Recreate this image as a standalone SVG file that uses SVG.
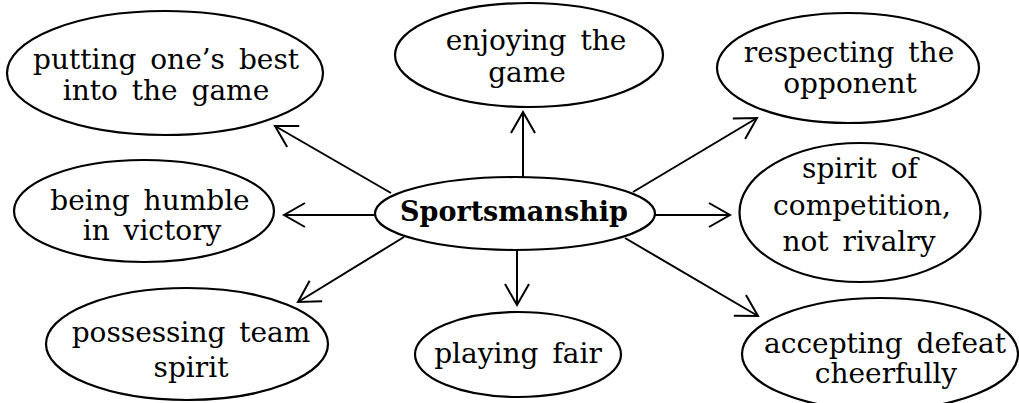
<svg xmlns="http://www.w3.org/2000/svg" width="1019" height="403" viewBox="0 0 1019 403">
<style>
.n ellipse{fill:#fff;stroke:#000;stroke-width:2.2}
.n text{font-family:"DejaVu Serif","Liberation Serif",serif;font-size:28px;word-spacing:5px;fill:#000;text-anchor:middle}
.n text.b{font-weight:bold;font-size:27px;word-spacing:0}
.c line{stroke:#000;stroke-width:2;marker-end:url(#ah)}
</style>
<defs>
<marker id="ah" markerUnits="userSpaceOnUse" viewBox="0 0 26 28" refX="24" refY="14" markerWidth="26" markerHeight="28" orient="auto" overflow="visible">
<path d="M3,2 L24,14 L3,26" fill="none" stroke="#000" stroke-width="2"/>
</marker>
</defs>
<rect width="1019" height="403" fill="#fff"/>
<g class="c">
<line x1="391" y1="193" x2="275" y2="126"/>
<line x1="523" y1="178" x2="523" y2="112"/>
<line x1="633" y1="192" x2="757" y2="118"/>
<line x1="655" y1="215" x2="730" y2="215"/>
<line x1="625" y1="238" x2="758" y2="316"/>
<line x1="517" y1="250" x2="517" y2="305"/>
<line x1="404" y1="237" x2="298" y2="302"/>
<line x1="375" y1="215" x2="284" y2="215"/>
</g>
<g id="sportsmanship" class="n">
<ellipse cx="515" cy="213.5" rx="140" ry="36.5"/>
<text class="b" x="514" y="221">Sportsmanship</text>
</g>
<g id="putting" class="n">
<ellipse cx="165" cy="73" rx="158" ry="62"/>
<text x="166" y="69">putting one’s best</text>
<text x="166" y="100">into the game</text>
</g>
<g id="enjoying" class="n">
<ellipse cx="529" cy="55" rx="134" ry="52"/>
<text x="536" y="50">enjoying the</text>
<text x="527" y="82">game</text>
</g>
<g id="respecting" class="n">
<ellipse cx="848" cy="68" rx="131" ry="55"/>
<text x="849" y="62">respecting the</text>
<text x="850" y="93">opponent</text>
</g>
<g id="spirit" class="n">
<ellipse cx="860" cy="212.5" rx="120.5" ry="69.5"/>
<text x="860" y="178">spirit of</text>
<text x="862" y="215">competition,</text>
<text x="859" y="251">not rivalry</text>
</g>
<g id="humble" class="n">
<ellipse cx="144" cy="211" rx="130" ry="51"/>
<text x="150" y="210">being humble</text>
<text x="152" y="240">in victory</text>
</g>
<g id="possessing" class="n">
<ellipse cx="187" cy="344" rx="141" ry="56"/>
<text x="191" y="342">possessing team</text>
<text x="191" y="377">spirit</text>
</g>
<g id="playing" class="n">
<ellipse cx="518" cy="354.5" rx="103" ry="42.5"/>
<text x="518" y="363">playing fair</text>
</g>
<g id="accepting" class="n">
<ellipse cx="880" cy="354" rx="138" ry="56"/>
<text x="885" y="353">accepting defeat</text>
<text x="886" y="383">cheerfully</text>
</g>
</svg>
